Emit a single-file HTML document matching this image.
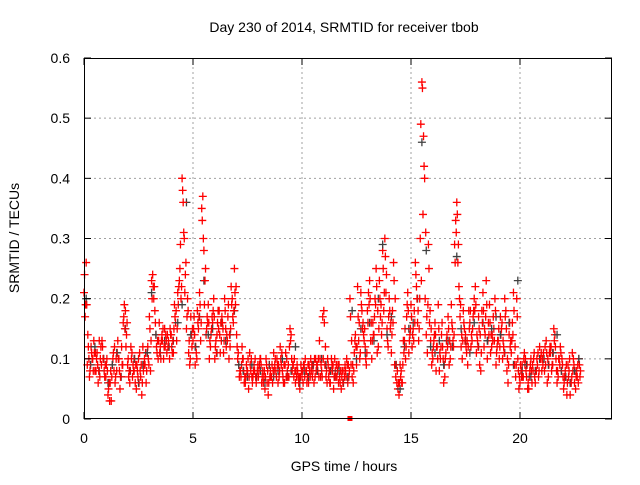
<!DOCTYPE html>
<html><head><meta charset="utf-8"><style>
html,body{margin:0;padding:0;background:#fff;}
svg text{font-family:"Liberation Sans",sans-serif;font-size:14px;fill:#000;}
</style></head><body>
<svg id="chart" width="640" height="480" viewBox="0 0 640 480" xmlns="http://www.w3.org/2000/svg">
<rect width="640" height="480" fill="#fff"/>
<text x="344" y="32" text-anchor="middle">Day 230 of 2014, SRMTID for receiver tbob</text>
<text x="344" y="471" text-anchor="middle">GPS time / hours</text>
<text x="0" y="0" text-anchor="middle" transform="translate(19,238) rotate(-90)">SRMTID / TECUs</text>
<g id="grid"></g>
<g id="marks"></g>
<g id="axes"></g>
</svg>
<script>
const xTicks = [0, 5, 10, 15, 20];
const yTicks = [0, 0.1, 0.2, 0.3, 0.4, 0.5, 0.6];
const yTickLabels = ["0", "0.1", "0.2", "0.3", "0.4", "0.5", "0.6"];
const stepHours = 0.1;
const seriesAStart = 0.0;
const seriesA = [
.21,.26,.12,.09,.10,.08,.11,.13,.09,.10,
.07,.04,.06,.09,.12,.08,.10,.07,.16,.18,
.09,.06,.11,.08,.05,.10,.07,.12,.09,.11,
.17,.23,.20,.14,.10,.12,.13,.15,.11,.12,
.14,.11,.16,.21,.25,.40,.30,.15,.11,.17,
.13,.09,.18,.21,.35,.28,.14,.19,.12,.16,
.10,.14,.18,.13,.11,.15,.17,.12,.20,.25,
.14,.09,.07,.10,.06,.08,.11,.07,.09,.06,
.07,.10,.08,.05,.06,.09,.07,.11,.08,.06,
.12,.08,.06,.10,.07,.14,.09,.06,.08,.05,
.07,.09,.08,.06,.10,.08,.07,.09,.13,.08,
.18,.07,.09,.06,.08,.10,.07,.09,.05,.06,
.08,.06,.20,.07,.11,.09,.13,.21,.16,.12,
.18,.23,.10,.14,.25,.12,.17,.28,.30,.15,
.20,.11,.26,.07,.05,.09,.06,.13,.17,.11,
.19,.15,.26,.16,.20,.56,.42,.14,.29,.13,
.10,.16,.12,.08,.14,.06,.11,.17,.10,.15,
.29,.36,.22,.12,.18,.14,.09,.16,.13,.20,
.11,.17,.08,.21,.14,.10,.19,.12,.15,.09,
.13,.17,.10,.20,.08,.14,.11,.21,.07,.10,
.06,.09,.11,.07,.05,.10,.08,.06,.09,.12,
.08,.10,.13,.07,.11,.09,.14,.06,.10,.08,
.05,.07,.09,.04,.11,.06,.08,.10];
const seriesBStart = 0.05;
const seriesB = [
.17,.09,.07,.11,.13,.08,.06,.10,.12,.07,
.10,.06,.03,.11,.07,.13,.05,.09,.19,.14,
.07,.12,.09,.06,.08,.11,.04,.09,.06,.10,
.08,.24,.18,.11,.16,.13,.10,.14,.12,.15,
.11,.19,.13,.22,.20,.36,.24,.20,.09,.12,
.17,.11,.15,.13,.37,.23,.17,.10,.15,.20,
.13,.18,.11,.16,.20,.14,.10,.22,.16,.19,
.10,.08,.12,.06,.09,.05,.08,.07,.10,.08,
.09,.06,.07,.10,.04,.08,.06,.09,.10,.07,
.09,.06,.11,.07,.15,.08,.10,.07,.06,.09,
.06,.10,.07,.08,.09,.06,.08,.10,.07,.17,
.09,.06,.08,.10,.05,.07,.09,.06,.08,.07,
.10,.07,.09,.06,.14,.22,.10,.18,.13,.09,
.21,.13,.16,.20,.11,.23,.14,.18,.21,.12,
.15,.18,.09,.06,.04,.08,.13,.10,.21,.14,
.12,.18,.22,.13,.49,.34,.20,.11,.16,.09,
.13,.08,.19,.10,.12,.07,.14,.09,.19,.12,
.33,.26,.17,.10,.15,.11,.18,.12,.17,.22,
.13,.09,.18,.12,.23,.16,.11,.13,.20,.12,
.10,.15,.12,.18,.06,.12,.16,.09,.20,.05,
.08,.07,.10,.05,.08,.06,.11,.08,.07,.10,
.09,.12,.06,.11,.08,.15,.10,.07,.12,.09,
.07,.04,.08,.06,.10,.05,.09,.07];
const seriesCStart = 0.025;
const seriesC = [
.24,.19,.10,.12,.08,.11,.09,.07,.13,.08,
.09,.05,.08,.10,.06,.11,.08,.12,.17,.12,
.10,.08,.07,.10,.09,.06,.09,.08,.11,.12,
.15,.20,.22,.12,.13,.10,.15,.12,.14,.10,
.12,.15,.18,.19,.29,.38,.21,.17,.13,.14,
.15,.12,.16,.19,.33,.19,.15,.16,.14,.18,
.12,.16,.14,.17,.13,.12,.19,.15,.17,.21,
.12,.07,.09,.08,.07,.10,.09,.06,.08,.07,
.08,.09,.06,.07,.08,.07,.09,.08,.07,.09,
.10,.07,.09,.08,.12,.10,.07,.08,.07,.07,
.08,.07,.06,.09,.08,.09,.10,.08,.10,.07,
.16,.08,.07,.08,.09,.08,.08,.07,.07,.08,
.07,.09,.17,.09,.13,.12,.16,.19,.14,.10,
.16,.20,.13,.17,.22,.15,.19,.25,.27,.13,
.18,.14,.23,.09,.06,.07,.09,.15,.19,.13,
.17,.13,.24,.18,.30,.55,.40,.17,.25,.15,
.12,.14,.10,.11,.16,.09,.13,.15,.12,.13,
.26,.34,.20,.14,.16,.12,.12,.18,.15,.18,
.14,.15,.11,.18,.17,.13,.16,.14,.13,.11,
.15,.14,.13,.17,.10,.16,.13,.18,.09,.08,
.09,.07,.09,.09,.07,.08,.10,.08,.11,.10,
.10,.08,.11,.09,.12,.11,.12,.08,.09,.10,
.06,.09,.07,.06,.08,.08,.07,.09];
const seriesDStart = 0.075;
const seriesD = [
.19,.14,.08,.10,.11,.10,.08,.12,.10,.09,
.08,.03,.07,.08,.10,.10,.07,.09,.15,.16,
.08,.10,.08,.09,.07,.08,.06,.10,.08,.09,
.13,.22,.16,.13,.11,.14,.12,.13,.13,.14,
.13,.17,.15,.23,.22,.31,.26,.18,.10,.15,
.14,.10,.17,.16,.30,.25,.16,.13,.17,.17,
.11,.15,.16,.15,.18,.13,.14,.19,.18,.22,
.11,.08,.10,.07,.08,.07,.10,.08,.07,.09,
.10,.07,.08,.09,.06,.07,.08,.10,.09,.08,
.11,.09,.07,.09,.13,.09,.08,.09,.07,.08,
.09,.08,.09,.07,.07,.10,.09,.07,.09,.10,
.12,.10,.06,.09,.07,.09,.06,.08,.06,.09,
.09,.08,.13,.08,.12,.17,.11,.15,.15,.11,
.19,.16,.14,.19,.18,.20,.16,.21,.24,.17,
.16,.16,.20,.08,.06,.06,.11,.12,.18,.15,
.14,.16,.20,.15,.23,.47,.31,.19,.18,.11,
.14,.12,.15,.12,.10,.10,.12,.13,.16,.14,
.31,.29,.19,.13,.13,.13,.15,.14,.18,.19,
.12,.14,.16,.15,.19,.14,.14,.17,.18,.13,
.12,.16,.11,.15,.09,.13,.14,.12,.17,.07,
.07,.10,.08,.06,.09,.09,.07,.10,.08,.11,
.11,.09,.10,.12,.09,.13,.08,.10,.11,.07,
.08,.06,.10,.07,.09,.07,.06,.08];
const greyStep = 0.2;
const greyStart = 0.1;
const seriesGrey = [
.20,.09,.12,.08,.10, .06,.09,.11,.07,.15, .08,.10,.06,.09,.11,
.21,.14,.11,.13,.12, .13,.16,.19,.36,.14, .12,.17,.23,.14,.15,
.11,.16,.13,.14,.18, .09,.08,.07,.09,.07, .08,.06,.09,.07,.08,
.10,.07,.08,.12,.06, .08,.07,.09,.08,.10, .09,.08,.07,.08,.06,
.07,.18,.10,.15,.11, .16,.13,.20,.29,.14, .17,.09,.05,.12,.15,
.16,.20,.46,.28,.12, .11,.13,.09,.13,.12, .27,.15,.13,.11,.16,
.12,.16,.13,.15,.17, .14,.11,.16,.09,.23, .08,.09,.07,.08,.10,
.10,.09,.11,.14,.08, .07,.06,.08,.10];
const outlierTimes = [12.2];
const outlierValues = [0];

const X0 = 84, X1 = 612, Y0 = 419, Y1 = 58;
const xMax = (X1 - X0) / 21.8;
function xs(v){ return X0 + v / xMax * (X1 - X0); }
function ys(v){ return Y0 - v / 0.6 * (Y0 - Y1); }
const NS = "http://www.w3.org/2000/svg";
function mk(tag, attrs, parent){
  const e = document.createElementNS(NS, tag);
  for (const k in attrs) e.setAttribute(k, attrs[k]);
  parent.appendChild(e); return e;
}
const grid = document.getElementById('grid');
const axes = document.getElementById('axes');
const marks = document.getElementById('marks');

yTicks.forEach((t, i) => {
  const y = ys(t);
  if (i > 0 && i < yTicks.length - 1) {
    const g = mk('line', {x1:X0, x2:X1, y1:y, y2:y, stroke:'#a0a0a0', 'stroke-width':1, 'stroke-dasharray':'2,3'}, grid);
    
    
  }
  mk('line', {x1:X0, x2:X0+7, y1:y, y2:y, stroke:'#000'}, axes);
  mk('line', {x1:X1, x2:X1-7, y1:y, y2:y, stroke:'#000'}, axes);
  const tx = mk('text', {x:X0-14, y:y+5, 'text-anchor':'end'}, axes);
  tx.textContent = yTickLabels[i];
  
  
});
xTicks.forEach((t) => {
  const x = xs(t);
  if (t > 0) {
    const g = mk('line', {x1:x, x2:x, y1:Y0, y2:Y1, stroke:'#a0a0a0', 'stroke-width':1, 'stroke-dasharray':'2,3'}, grid);
    
    
  }
  mk('line', {x1:x, x2:x, y1:Y0, y2:Y0-7, stroke:'#000'}, axes);
  mk('line', {x1:x, x2:x, y1:Y1, y2:Y1+7, stroke:'#000'}, axes);
  const tx = mk('text', {x:x, y:Y0+24, 'text-anchor':'middle'}, axes);
  tx.textContent = String(t);
  
  
});
const border = mk('rect', {x:X0+0.5, y:Y1+0.5, width:X1-X0-1, height:Y0-Y1-1, fill:'none', stroke:'#000', 'stroke-width':1}, axes);



function plus(t, v, color, name){
  const x = xs(t), y = ys(v);
  const p = mk('path', {d:`M${x-4},${y}H${x+4}M${x},${y-4}V${y+4}`, stroke:color, 'stroke-width':1.3, fill:'none'}, marks);
  
  
}
seriesA.forEach((v, i) => plus(seriesAStart + i * stepHours, v, '#ff0000', 'point-red'));
seriesC.forEach((v, i) => plus(seriesCStart + i * stepHours, v, '#ff0000', 'point-red'));
seriesGrey.forEach((v, i) => plus(greyStart + i * greyStep, v, '#404040', 'point-grey'));
seriesB.forEach((v, i) => plus(seriesBStart + i * stepHours, v, '#ff0000', 'point-red'));
seriesD.forEach((v, i) => plus(seriesDStart + i * stepHours, v, '#ff0000', 'point-red'));
outlierTimes.forEach((t, i) => {
  const r = mk('rect', {x:xs(t)-2.5, y:ys(outlierValues[i])-3, width:5, height:5, fill:'#ff0000'}, marks);
  
  
});
</script>
</body></html>
